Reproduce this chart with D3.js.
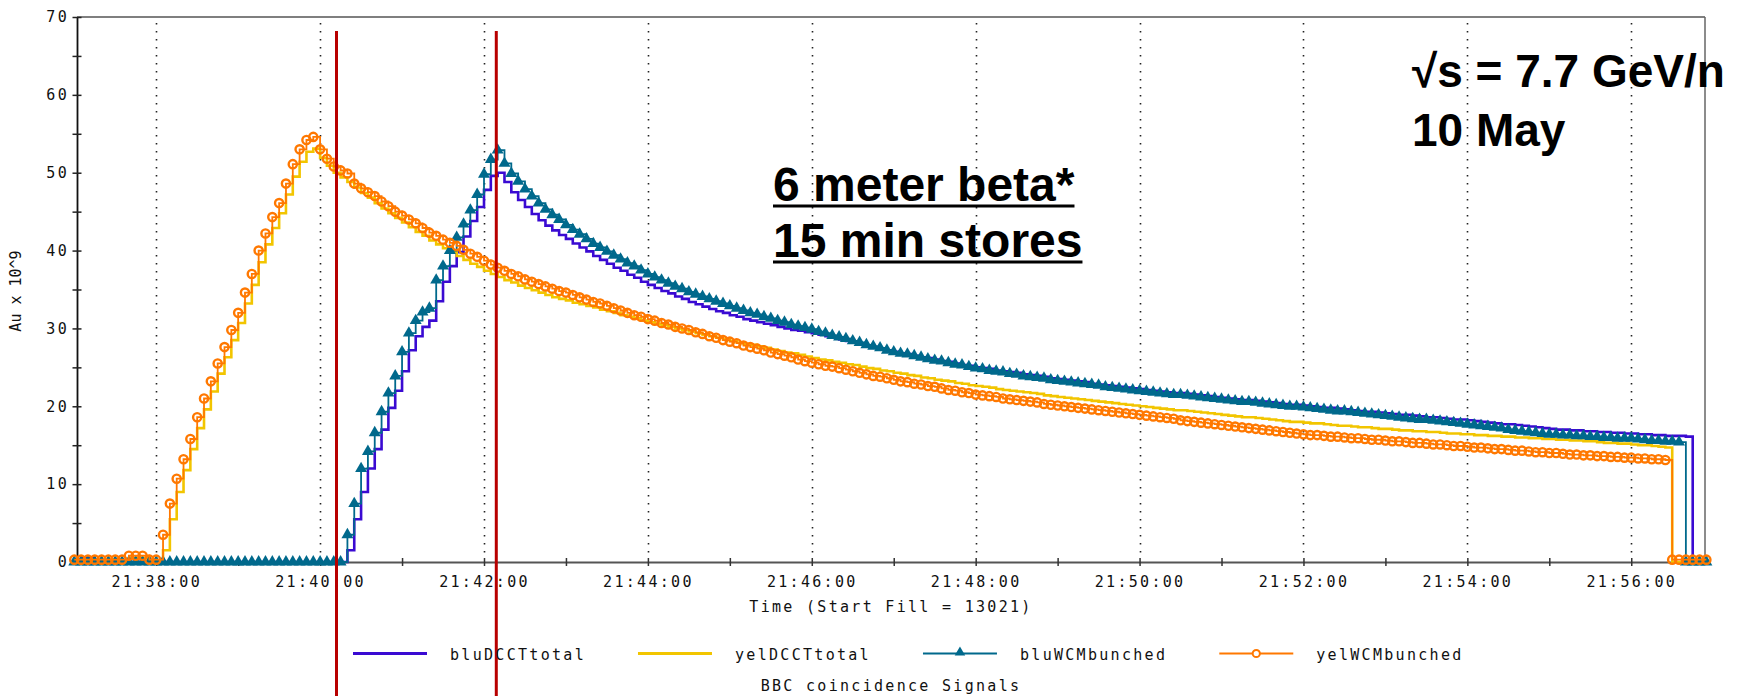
<!DOCTYPE html>
<html><head><meta charset="utf-8">
<script src="https://cdn.jsdelivr.net/npm/d3@7"></script>
<style>body{margin:0;background:#fff}svg{display:block}</style>
</head><body><svg id="c" width="1740" height="696"></svg>
<script>
// ---- data (Au x 10^9), one sample every 5 s starting 21:37:00 ----
const sampleStart = "21:37:00";
const sampleStepSec = 5;

const bluDCCTtotal = [
0,0.6,0.6,0,0,0,0,0,0,0,0,0,
0,0,0,0,0,0,0,0,0,0,0,0,
0,0,0,0,0,0,0,0,0,0,0,0,
0,0,0,0,1.5,5.5,9.0,12.0,14.5,17.0,19.8,22.0,
24.5,27.2,29.0,30.2,31.0,33.5,36.0,38.0,39.8,41.8,43.8,45.6,
47.8,49.6,50.0,48.8,47.5,46.5,45.6,44.7,43.9,43.2,42.6,42.0,
41.5,40.9,40.4,39.9,39.3,38.8,38.3,37.8,37.4,36.9,36.5,36.0,
35.6,35.2,34.8,34.5,34.1,33.8,33.4,33.1,32.8,32.5,32.2,32.0,
31.7,31.5,31.2,31.0,30.8,30.6,30.4,30.2,30.0,29.8,29.7,29.5,
29.4,29.2,29.0,28.8,28.6,28.4,28.2,28.0,27.8,27.6,27.4,27.2,
27.0,26.8,26.7,26.5,26.3,26.2,26.0,25.8,25.7,25.5,25.3,25.2,
25.0,24.9,24.8,24.6,24.5,24.4,24.3,24.1,24.0,23.9,23.8,23.6,
23.5,23.4,23.3,23.2,23.1,22.9,22.8,22.7,22.6,22.5,22.4,22.3,
22.2,22.1,22.0,21.9,21.8,21.7,21.7,21.6,21.5,21.4,21.3,21.2,
21.1,21.0,20.9,20.8,20.8,20.7,20.6,20.5,20.4,20.3,20.2,20.2,
20.1,20.0,19.9,19.8,19.8,19.7,19.6,19.5,19.4,19.3,19.3,19.2,
19.1,19.0,18.9,18.9,18.8,18.7,18.6,18.6,18.5,18.4,18.3,18.3,
18.2,18.1,18.0,17.9,17.8,17.7,17.7,17.6,17.5,17.4,17.3,17.2,
17.1,17.0,17.0,16.9,16.9,16.8,16.8,16.7,16.7,16.6,16.6,16.5,
16.5,16.4,16.4,16.3,16.3,16.2,16.2,16.2,16.1,0,0,0
];

const yelDCCTtotal = [
0,0,0,0,0,0,0,0,0.5,0.5,0.5,0,
0,1.5,5.5,9.0,11.8,14.5,17.2,19.6,21.9,24.2,26.3,28.5,
30.7,33.2,35.6,38.5,40.8,42.9,44.8,47.2,49.5,51.4,52.7,53.1,
51.9,50.9,50.0,49.4,48.8,48.1,47.4,46.8,46.1,45.4,44.8,44.2,
43.6,43.0,42.4,41.9,41.3,40.8,40.3,39.8,39.3,38.8,38.3,37.9,
37.4,37.0,36.6,36.2,35.9,35.5,35.2,34.9,34.6,34.3,34.0,33.8,
33.6,33.3,33.1,32.9,32.7,32.4,32.2,32.0,31.7,31.5,31.3,31.0,
30.8,30.6,30.4,30.2,30.0,29.8,29.6,29.4,29.2,29.0,28.8,28.6,
28.4,28.2,28.0,27.9,27.7,27.5,27.3,27.1,26.9,26.8,26.6,26.4,
26.2,26.0,25.9,25.7,25.6,25.4,25.3,25.1,24.9,24.8,24.6,24.5,
24.3,24.2,24.0,23.9,23.7,23.6,23.4,23.3,23.2,23.0,22.9,22.7,
22.6,22.5,22.4,22.2,22.1,22.0,21.9,21.8,21.7,21.6,21.4,21.3,
21.2,21.1,21.0,20.9,20.8,20.7,20.6,20.5,20.4,20.3,20.2,20.1,
20.0,19.9,19.8,19.7,19.6,19.5,19.5,19.4,19.3,19.2,19.1,19.0,
18.9,18.8,18.7,18.6,18.6,18.5,18.4,18.3,18.2,18.1,18.0,18.0,
17.9,17.8,17.8,17.7,17.6,17.5,17.5,17.4,17.3,17.3,17.2,17.1,
17.1,17.0,16.9,16.9,16.8,16.8,16.7,16.7,16.6,16.5,16.5,16.4,
16.4,16.3,16.3,16.2,16.2,16.1,16.1,16.0,16.0,15.9,15.9,15.8,
15.8,15.7,15.7,15.6,15.6,15.5,15.5,15.4,15.3,15.3,15.2,15.2,
15.1,15.0,15.0,14.9,14.8,14.7,0,0,0,0,0,0
];

const bluWCMbunched = [
0,0,0,0,0,0,0,0,0,0,0,0,
0,0,0,0,0,0,0,0,0,0,0,0,
0,0,0,0,0,0,0,0,0,0,0,0,
0,0,0,0,3.5,7.5,12.0,14.2,16.6,19.3,21.7,23.9,
27.0,29.4,31.0,32.1,32.6,36.2,38.0,40.0,41.7,43.4,45.2,47.2,
49.8,51.7,52.9,51.2,49.9,48.9,47.9,47.0,46.1,45.3,44.6,44.0,
43.3,42.7,42.1,41.5,40.9,40.4,39.9,39.4,38.9,38.4,38.0,37.5,
37.0,36.6,36.2,35.8,35.4,35.1,34.7,34.4,34.1,33.8,33.5,33.2,
32.9,32.6,32.3,32.0,31.8,31.5,31.3,31.0,30.8,30.5,30.3,30.1,
29.9,29.6,29.4,29.1,28.9,28.7,28.4,28.2,27.9,27.7,27.5,27.2,
27.0,26.8,26.7,26.5,26.3,26.1,25.9,25.8,25.6,25.4,25.3,25.1,
24.9,24.8,24.6,24.5,24.4,24.2,24.1,23.9,23.8,23.7,23.6,23.4,
23.3,23.2,23.1,23.0,22.9,22.8,22.7,22.5,22.4,22.3,22.2,22.1,
22.0,21.9,21.8,21.7,21.6,21.5,21.5,21.4,21.3,21.2,21.1,21.0,
20.9,20.8,20.7,20.6,20.6,20.5,20.4,20.3,20.2,20.1,20.0,20.0,
19.9,19.8,19.7,19.6,19.5,19.4,19.4,19.3,19.2,19.1,19.0,18.9,
18.8,18.7,18.6,18.5,18.4,18.3,18.3,18.2,18.1,18.0,17.9,17.8,
17.7,17.6,17.5,17.4,17.3,17.2,17.0,16.9,16.8,16.7,16.6,16.5,
16.4,16.4,16.3,16.3,16.2,16.2,16.1,16.1,16.0,16.0,15.9,15.9,
15.9,15.8,15.7,15.6,15.6,15.5,15.5,15.4,0,0,0,0
];

const yelWCMbunched = [
0.3,0.3,0.3,0.3,0.3,0.3,0.3,0.3,0.8,0.8,0.8,0.3,
0.3,3.5,7.5,10.7,13.2,15.8,18.6,21.0,23.2,25.5,27.6,29.8,
32.0,34.6,37.0,40.0,42.2,44.3,46.1,48.6,51.1,53.0,54.2,54.6,
53.0,51.8,50.8,50.3,49.9,48.6,48.0,47.5,47.0,46.3,45.7,45.0,
44.5,44.0,43.5,42.9,42.3,41.9,41.4,41.0,40.6,40.1,39.6,39.2,
38.7,38.2,37.8,37.4,37.0,36.7,36.3,36.0,35.7,35.4,35.1,34.8,
34.6,34.3,34.0,33.7,33.4,33.2,32.9,32.6,32.3,32.0,31.7,31.5,
31.2,31.0,30.7,30.5,30.2,30.0,29.8,29.5,29.3,29.0,28.8,28.5,
28.3,28.1,27.8,27.6,27.4,27.2,26.9,26.7,26.5,26.3,26.0,25.8,
25.6,25.4,25.2,25.1,24.9,24.7,24.5,24.3,24.1,23.9,23.8,23.6,
23.4,23.2,23.1,22.9,22.8,22.6,22.5,22.3,22.1,22.0,21.8,21.7,
21.5,21.4,21.3,21.2,21.0,20.9,20.8,20.7,20.6,20.5,20.3,20.2,
20.1,20.0,19.9,19.8,19.7,19.6,19.5,19.4,19.3,19.2,19.1,19.0,
18.9,18.8,18.7,18.6,18.5,18.4,18.2,18.1,18.0,17.9,17.8,17.7,
17.6,17.5,17.4,17.3,17.2,17.1,17.0,16.9,16.8,16.7,16.6,16.5,
16.4,16.3,16.3,16.2,16.1,16.1,16.0,15.9,15.9,15.8,15.7,15.7,
15.6,15.5,15.5,15.4,15.3,15.3,15.2,15.1,15.1,15.0,14.9,14.9,
14.8,14.7,14.7,14.6,14.5,14.5,14.4,14.3,14.3,14.2,14.1,14.1,
14.0,14.0,13.9,13.8,13.8,13.7,13.7,13.6,13.6,13.5,13.5,13.4,
13.4,13.3,13.3,13.2,13.2,13.1,0.3,0.3,0.3,0.3,0.3,0.3
];

const seriesNames = ["bluDCCTtotal", "yelDCCTtotal", "bluWCMbunched", "yelWCMbunched"];
const seriesColors = ["#3a0ad2", "#f2c500", "#00698c", "#ff7800"];
const xDomain = ["21:37:02", "21:56:54"];
const yDomain = [0, 70];
const yMajorTicks = [0, 10, 20, 30, 40, 50, 60, 70];
const yMinorTicks = [5, 15, 25, 35, 45, 55, 65];
const redMarkTimes = ["21:40:12", "21:42:09"];
const xTitle = "Time (Start Fill = 13021)";
const yTitle = "Au x 10^9";
const footTitle = "BBC coincidence Signals";
const noteLines = ["6 meter beta*", "15 min stores"];
const energyLines = ["\u221As = 7.7 GeV/n", "10 May"];

// ---- drawing ----
const parse = d3.timeParse("%H:%M:%S");
const t0 = parse(sampleStart).getTime();
const toPoints = arr => arr.map((v, i) => ({t: new Date(t0 + i * sampleStepSec * 1000), v}));
const seriesData = [bluDCCTtotal, yelDCCTtotal, bluWCMbunched, yelWCMbunched].map(toPoints);

const svg = d3.select("#c");
const P = {left: 77, right: 1705, top: 17, bottom: 562};
const x = d3.scaleTime().domain(xDomain.map(parse)).range([P.left, P.right]);
const y = d3.scaleLinear().domain(yDomain).range([P.bottom, P.top]);

const MONO = "'DejaVu Sans Mono', monospace";
const SANS = "'Liberation Sans', Arial, sans-serif";

const majorT = x.ticks(d3.timeMinute.every(2));
const minorT = x.ticks(d3.timeMinute.every(1)).filter(d => d.getMinutes() % 2 === 1);

// dotted vertical grid
svg.append("g").selectAll("line").data(majorT).join("line")
  .attr("x1", d => Math.round(x(d)) + 0.5).attr("x2", d => Math.round(x(d)) + 0.5)
  .attr("y1", 23).attr("y2", 556)
  .attr("stroke", "#222").attr("stroke-width", 1.6).attr("stroke-dasharray", "1.6,6.4");

// frame (top + right)
svg.append("line").attr("x1", P.left).attr("x2", P.right).attr("y1", P.top).attr("y2", P.top)
  .attr("stroke", "#555").attr("stroke-width", 1.5);
svg.append("line").attr("x1", P.right).attr("x2", P.right).attr("y1", P.top).attr("y2", P.bottom)
  .attr("stroke", "#666").attr("stroke-width", 1.5);

// x axis
const gx = svg.append("g").attr("transform", `translate(0,${P.bottom})`)
  .call(d3.axisBottom(x).tickValues(majorT).tickFormat(d3.timeFormat("%H:%M:%S")).tickSizeOuter(0));
gx.select(".domain").attr("stroke", "#555").attr("stroke-width", 1.8);
gx.selectAll(".tick line").attr("y1", -4).attr("y2", 4).attr("stroke", "#333").attr("stroke-width", 1.5);
gx.selectAll(".tick text").attr("y", 14.5).attr("font-family", MONO).attr("font-size", 15)
  .attr("letter-spacing", 2.3).attr("fill", "#111");
const gx2 = svg.append("g").attr("transform", `translate(0,${P.bottom})`)
  .call(d3.axisBottom(x).tickValues(minorT).tickFormat("").tickSizeOuter(0));
gx2.select(".domain").remove();
gx2.selectAll(".tick line").attr("y1", -4).attr("y2", 4).attr("stroke", "#333").attr("stroke-width", 1.5);

// y axis
const gy = svg.append("g").attr("transform", `translate(${P.left},0)`)
  .call(d3.axisLeft(y).tickValues(yMajorTicks).tickFormat(d3.format("d")).tickSizeOuter(0));
gy.select(".domain").attr("stroke", "#111").attr("stroke-width", 1.8);
gy.selectAll(".tick line").attr("x1", -4.5).attr("x2", 4.5).attr("stroke", "#222").attr("stroke-width", 1.5);
gy.selectAll(".tick text").attr("x", -8).attr("font-family", MONO).attr("font-size", 15)
  .attr("letter-spacing", 2.3).attr("fill", "#111");
const gy2 = svg.append("g").attr("transform", `translate(${P.left},0)`)
  .call(d3.axisLeft(y).tickValues(yMinorTicks).tickFormat("").tickSizeOuter(0));
gy2.select(".domain").remove();
gy2.selectAll(".tick line").attr("x1", -4.5).attr("x2", 4.5).attr("stroke", "#222").attr("stroke-width", 1.5);

// series
const line = d3.line().x(d => x(d.t)).y(d => y(d.v)).curve(d3.curveStepAfter);
const widths = [2.6, 2.6, 1.8, 1.8];
seriesData.forEach((data, k) => {
  svg.append("path").datum(data).attr("d", line).attr("fill", "none")
    .attr("stroke", seriesColors[k]).attr("stroke-width", widths[k]);
  if (k === 2) {
    svg.append("g").selectAll("path").data(data).join("path")
      .attr("d", d3.symbol(d3.symbolTriangle, 62))
      .attr("transform", d => `translate(${x(d.t)},${y(d.v)})`)
      .attr("fill", seriesColors[k]);
  }
  if (k === 3) {
    svg.append("g").selectAll("circle").data(data).join("circle")
      .attr("cx", d => x(d.t)).attr("cy", d => y(d.v)).attr("r", 4.1)
      .attr("fill", "none").attr("stroke", seriesColors[k]).attr("stroke-width", 2.4);
  }
});

// red vertical markers
svg.append("g").selectAll("line").data(redMarkTimes.map(parse)).join("line")
  .attr("x1", d => x(d)).attr("x2", d => x(d)).attr("y1", 31).attr("y2", 696)
  .attr("stroke", "#b80000").attr("stroke-width", 3);

// axis titles
svg.append("text").attr("x", (P.left + P.right) / 2).attr("y", 612).attr("text-anchor", "middle")
  .attr("font-family", MONO).attr("font-size", 15).attr("letter-spacing", 2.3).attr("fill", "#111").text(xTitle);
svg.append("text").attr("transform", "translate(21,291) rotate(-90)").attr("text-anchor", "middle")
  .attr("font-family", MONO).attr("font-size", 15).attr("fill", "#111").text(yTitle);
svg.append("text").attr("x", (P.left + P.right) / 2).attr("y", 691).attr("text-anchor", "middle")
  .attr("font-family", MONO).attr("font-size", 15).attr("letter-spacing", 2.3).attr("fill", "#111").text(footTitle);

// legend
let lx = 353;
const ly = 653.5;
seriesNames.forEach((name, k) => {
  const g = svg.append("g");
  g.append("line").attr("x1", lx).attr("x2", lx + 74).attr("y1", ly).attr("y2", ly)
    .attr("stroke", seriesColors[k]).attr("stroke-width", k < 2 ? 3 : 1.8);
  if (k === 2) g.append("path").attr("d", d3.symbol(d3.symbolTriangle, 48))
    .attr("transform", `translate(${lx + 37},${ly - 1})`).attr("fill", seriesColors[k]);
  if (k === 3) g.append("circle").attr("cx", lx + 37).attr("cy", ly).attr("r", 3.6)
    .attr("fill", "#fff").attr("stroke", seriesColors[k]).attr("stroke-width", 2);
  const t = g.append("text").attr("x", lx + 97).attr("y", ly + 6)
    .attr("font-family", MONO).attr("font-size", 15).attr("letter-spacing", 2.3).attr("fill", "#111").text(name);
  lx += 97 + t.node().getComputedTextLength() + 52;
});

// annotations
noteLines.forEach((s, i) => {
  const by = 200.5 + i * 56;
  const t = svg.append("text").attr("x", 773).attr("y", by).attr("font-family", SANS)
    .attr("font-weight", "bold").attr("font-size", 48).attr("fill", "#000").text(s);
  const w = t.node().getComputedTextLength();
  svg.append("line").attr("x1", 773).attr("x2", 773 + w).attr("y1", by + 5.5).attr("y2", by + 5.5)
    .attr("stroke", "#000").attr("stroke-width", 3);
});
energyLines.forEach((s, i) => {
  svg.append("text").attr("x", 1412).attr("y", 87 + i * 59).attr("font-family", SANS)
    .attr("font-weight", "bold").attr("font-size", 46).attr("fill", "#000").text(s);
});
</script>
</body></html>
